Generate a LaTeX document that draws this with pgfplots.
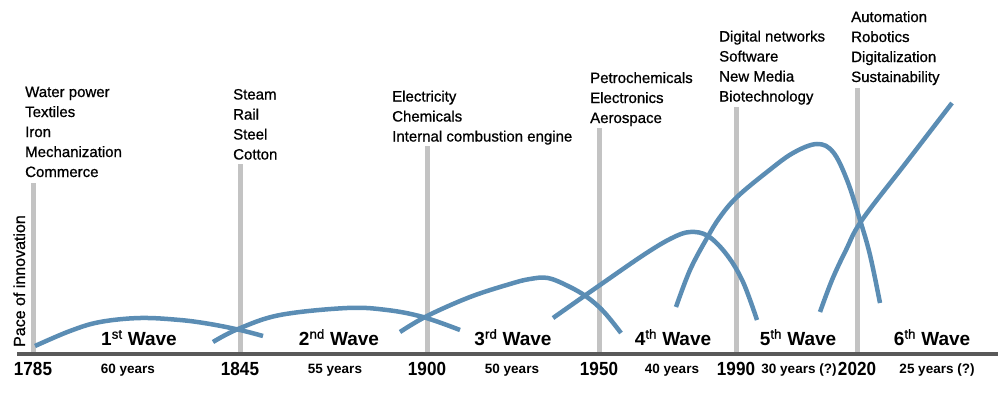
\documentclass[border=0pt]{standalone}
\usepackage{pgfplots}
\pgfplotsset{compat=1.18}
\usepackage{fontspec}
\setmainfont{Liberation Sans}
\newfontfamily\medfont{Liberation Sans}[FakeBold=0.8]
\newfontfamily\nbfont{Liberation Sans Bold}[FakeStretch=0.9]
\definecolor{wave}{HTML}{5B8DB4}
\definecolor{barc}{HTML}{C3C3C3}
\definecolor{axisline}{HTML}{595959}
\newcommand{\lst}[3]{\node[anchor=base west, inner sep=0pt, font=\medfont\fontsize{15}{18}\selectfont] at (axis cs:#1,#2) {#3};}
\newcommand{\yr}[2]{\node[anchor=base, inner sep=0pt, font=\nbfont\fontsize{19}{21}\selectfont] at (axis cs:#1,17) {#2};}
\newcommand{\dur}[2]{\node[anchor=base, inner sep=0pt, font=\bfseries\fontsize{13.5}{16}\selectfont] at (axis cs:#1,19) {#2};}
\newcommand{\wv}[3]{\node[anchor=base, inner sep=0pt, font=\bfseries\fontsize{19}{21}\selectfont] at (axis cs:#1,47) {#2\textsuperscript{\medfont\mdseries #3} Wave};}
\begin{document}
\begin{tikzpicture}
\begin{axis}[scale only axis, width=1000pt, height=392pt,
  xmin=0, xmax=1000, ymin=0, ymax=392, hide axis, clip=false]
\addplot[draw=none, forget plot] coordinates {(0,0) (1000,392)};
% vertical bars
\addplot[barc, line width=5pt] coordinates {(33,40) (33,209)};
\addplot[barc, line width=5pt] coordinates {(240,40) (240,228)};
\addplot[barc, line width=5pt] coordinates {(427,40) (427,246)};
\addplot[barc, line width=5pt] coordinates {(599,40) (599,264)};
\addplot[barc, line width=5pt] coordinates {(736,40) (736,285)};
\addplot[barc, line width=5pt] coordinates {(857,40) (857,304)};
% axis line
\addplot[axisline, line width=3.5pt] coordinates {(17,38) (998,38)};
% waves
\addplot[wave, line width=4.5pt, smooth, tension=0.6] coordinates {
(35,46) (70,61) (100,70) (140,74) (180,72) (210,68) (240,62) (263,56)};
\addplot[wave, line width=4.5pt, smooth, tension=0.6] coordinates {
(213,50) (238,63) (280,77) (347,84) (387,82) (423,75) (460,62)};
\addplot[wave, line width=4.5pt, smooth, tension=0.6] coordinates {
(400,60) (427,76) (470,95) (510,108) (530,113) (548,114) (568,106) (587,95) (604,80) (621,59)};
\addplot[wave, line width=4.5pt, smooth, tension=0.6] coordinates {
(553,74) (600,107) (645,138) (672,154) (690,160) (708,156) (727,137) (743,110) (757,72)};
\addplot[wave, line width=4.5pt, smooth, tension=0.6] coordinates {
(676,85) (690,122) (707,154) (720,175) (737,195) (767,220) (793,239) (817,248) (833,240) (847,212) (860,172) (870,137) (880,89)};
\addplot[wave, line width=4.5pt, smooth, tension=0.6] coordinates {
(820,80) (832,112) (846,142) (862,172) (907,230.5) (952,289)};
% top lists
\lst{25}{295}{Water power}
\lst{25}{275}{Textiles}
\lst{25}{255}{Iron}
\lst{25}{235}{Mechanization}
\lst{25}{215}{Commerce}
\lst{233}{292.5}{Steam}
\lst{233}{272.5}{Rail}
\lst{233}{252.5}{Steel}
\lst{233}{232.5}{Cotton}
\lst{392}{290.5}{Electricity}
\lst{392}{270.5}{Chemicals}
\lst{392}{250.5}{Internal combustion engine}
\lst{590}{309}{Petrochemicals}
\lst{590}{289}{Electronics}
\lst{590}{269}{Aerospace}
\lst{719}{350.5}{Digital networks}
\lst{719}{330.5}{Software}
\lst{719}{310.5}{New Media}
\lst{719}{290.5}{Biotechnology}
\lst{851}{370}{Automation}
\lst{851}{350}{Robotics}
\lst{851}{330}{Digitalization}
\lst{851}{310}{Sustainability}
% y label
\node[rotate=90, anchor=base, inner sep=0pt, font=\medfont\fontsize{16}{18}\selectfont] at (axis cs:25,111) {Pace of innovation};
% years
\yr{33}{1785}
\yr{240}{1845}
\yr{427}{1900}
\yr{599}{1950}
\yr{736}{1990}
\yr{857}{2020}
% durations
\dur{128}{60 years}
\dur{335}{55 years}
\dur{512}{50 years}
\dur{672}{40 years}
\dur{799}{30 years (?)}
\dur{937}{25 years (?)}
% waves
\wv{139}{1}{st}
\wv{339}{2}{nd}
\wv{513}{3}{rd}
\wv{673}{4}{th}
\wv{798}{5}{th}
\wv{932}{6}{th}
\end{axis}
\end{tikzpicture}
\end{document}
